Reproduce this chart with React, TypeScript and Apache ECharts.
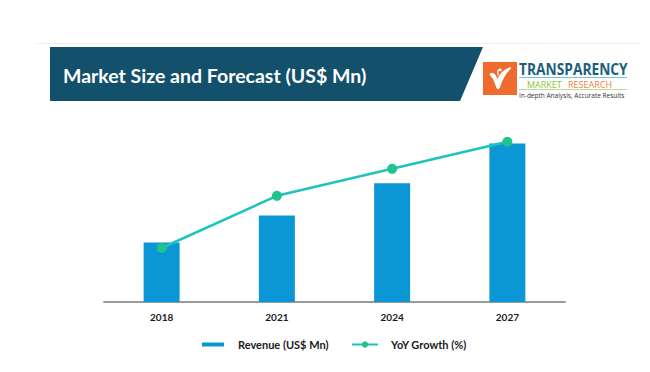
import React, { useEffect, useRef } from "react";
import * as echarts from "echarts";

const years = ["2018", "2021", "2024", "2027"];
const revenue = [33, 48, 66, 88];
const yoyGrowth = [30, 59, 74, 89];
const titleText = "Market Size and Forecast (US$ Mn)";
const revenueName = "Revenue (US$ Mn)";
const growthName = "YoY Growth (%)";

const LOGO_D =
  "M8 30 C18 22 30 30 38 52 C44 36 58 16 86 6 C92 4 94 8 90 12 C70 30 56 58 48 86 C46 92 38 94 34 88 C26 66 22 52 14 44 C10 40 4 34 8 30 Z M40 40 C34 28 36 14 46 10 C54 8 58 16 52 22 C48 16 42 18 42 26 C42 32 44 36 40 40 Z";

export default function App() {
  const ref = useRef<HTMLDivElement>(null);
  useEffect(() => {
    if (!ref.current) return;
    try {
      echarts.graphic.registerShape("logo", echarts.graphic.extendPath(LOGO_D as any, {}) as any);
    } catch (e) {}
    const chart = echarts.init(ref.current, null, { renderer: "svg" });
    const font = "Lato, 'Open Sans', sans-serif";
    chart.setOption({
      animation: false,
      backgroundColor: "#ffffff",
      grid: { left: 104, right: 85, top: 122, bottom: 70 },
      xAxis: {
        type: "category",
        data: years,
        axisTick: { show: false },
        axisLine: { lineStyle: { color: "#9a9a9a", width: 2 } },
        axisLabel: { color: "#1a1a1a", fontWeight: "bold", fontSize: 10, fontFamily: font, margin: 10 },
      },
      yAxis: { type: "value", min: 0, max: 100, show: false },
      legend: [
        {
          data: [revenueName],
          left: 197,
          top: 334,
          icon: "rect",
          itemWidth: 22,
          itemHeight: 4,
          textStyle: { color: "#1a1a1a", fontWeight: "bold", fontSize: 11, fontFamily: font, padding: [0, 0, 0, 9] },
        },
        {
          data: [growthName],
          left: 346,
          top: 334,
          itemWidth: 26,
          itemHeight: 8,
          textStyle: { color: "#1a1a1a", fontWeight: "bold", fontSize: 11, fontFamily: font, padding: [0, 0, 0, 8] },
        },
      ],
      series: [
        {
          name: revenueName,
          type: "bar",
          data: revenue,
          barWidth: 36,
          itemStyle: { color: "#0b96d6" },
        },
        {
          name: growthName,
          type: "line",
          data: yoyGrowth,
          symbol: "circle",
          symbolSize: 10,
          lineStyle: { color: "#1dc3bd", width: 2.5 },
          itemStyle: { color: "#1ec48a" },
        },
      ],
      graphic: [
        { type: "line", shape: { x1: 37, y1: 43.5, x2: 640, y2: 43.5 }, style: { stroke: "#ececec", lineWidth: 1 } },
        {
          type: "polygon",
          shape: { points: [[50, 47], [483, 47], [460, 101], [50, 101]] },
          style: { fill: "#13506b" },
        },
        {
          type: "text",
          x: 63,
          y: 75,
          style: {
            text: titleText,
            fill: "#ffffff",
            font: "bold 19.5px Lato, 'Open Sans', sans-serif",
            verticalAlign: "middle",
          },
        },
        { type: "rect", shape: { x: 483, y: 62, width: 34, height: 33 }, style: { fill: "#ef6a2e" } },
        { type: "logo", x: 488, y: 66, scaleX: 0.25, scaleY: 0.25, style: { fill: "#ffffff" } },
        {
          type: "text",
          x: 519,
          y: 69,
          scaleX: 0.86,
          style: {
            text: "TRANSPARENCY",
            fill: "#1b5f7a",
            font: "bold 16px 'Open Sans', sans-serif",
            verticalAlign: "middle",
          },
        },
        { type: "line", shape: { x1: 519, y1: 77.5, x2: 627, y2: 77.5 }, style: { stroke: "#6ec5e6", lineWidth: 1 } },
        {
          type: "text",
          x: 527,
          y: 84,
          style: {
            text: "MARKET",
            fill: "#8cc63e",
            font: "9px 'Open Sans', sans-serif",
            verticalAlign: "middle",
          },
        },
        {
          type: "text",
          x: 568,
          y: 84,
          style: {
            text: "RESEARCH",
            fill: "#f07e3a",
            font: "9px 'Open Sans', sans-serif",
            verticalAlign: "middle",
          },
        },
        { type: "line", shape: { x1: 519, y1: 89.5, x2: 627, y2: 89.5 }, style: { stroke: "#b9dc8a", lineWidth: 1 } },
        {
          type: "text",
          x: 519,
          y: 95,
          style: {
            text: "In-depth Analysis, Accurate Results",
            fill: "#333333",
            font: "6.5px 'Open Sans', sans-serif",
            verticalAlign: "middle",
          },
        },
      ],
    });
    return () => chart.dispose();
  }, []);
  return <div ref={ref} style={{ position: "fixed", left: 0, top: 0, width: 650, height: 372 }} />;
}
